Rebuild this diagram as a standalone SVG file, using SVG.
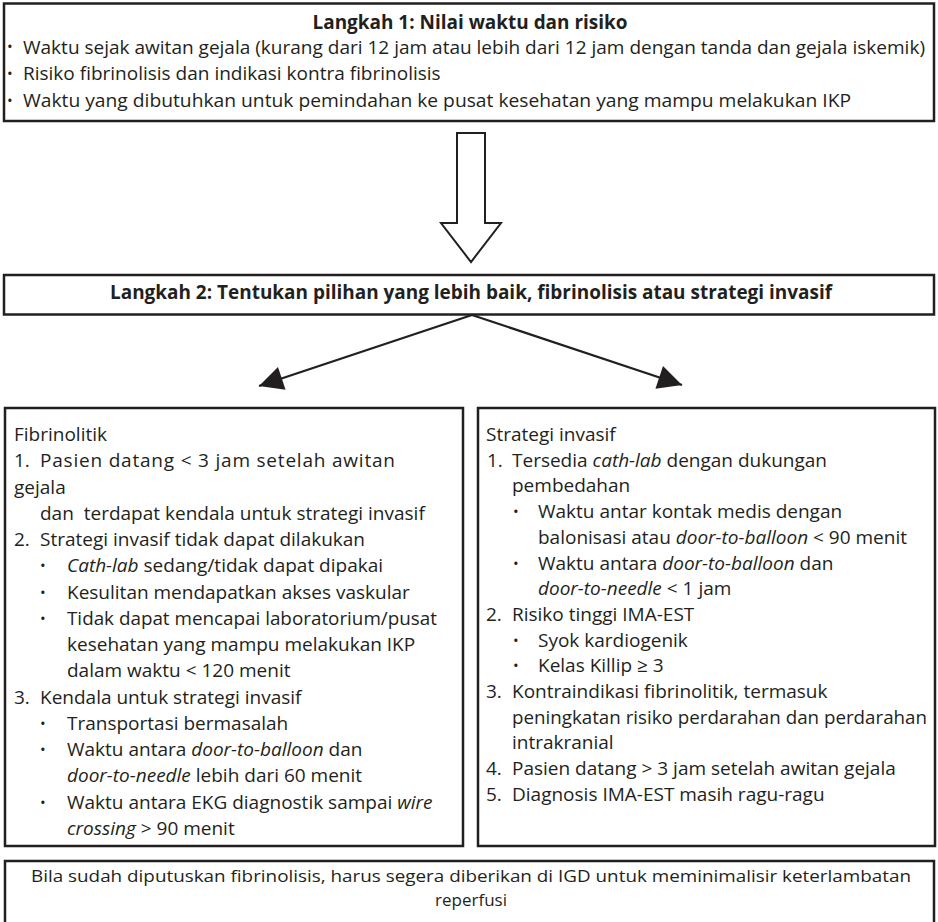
<svg xmlns="http://www.w3.org/2000/svg" width="938" height="922" viewBox="0 0 938 922">
<defs>
<style>
.box{fill:#fff;stroke:#231f20;stroke-width:2.5}
.t{font-family:"Open Sans","Noto Sans","Liberation Sans",sans-serif;font-size:19px;fill:#231f20}
.b{font-family:"Open Sans","Noto Sans","Liberation Sans",sans-serif;font-size:20px;font-weight:bold;fill:#231f20}
.s{font-size:17px}
.i{font-style:italic}
.bul{font-size:15px}
.con{stroke:#231f20;stroke-width:2.2;fill:none}
.hollow{fill:#fff;stroke:#231f20;stroke-width:2}
</style>
<marker id="ah" viewBox="0 0 10 10" refX="10" refY="5" markerUnits="userSpaceOnUse" markerWidth="27" markerHeight="24" orient="auto">
<path d="M0,0 L10,5 L0,10 z" fill="#231f20"/>
</marker>
</defs>
<rect width="938" height="922" fill="#fff"/>

<g id="step1">
<rect class="box" x="4" y="3.5" width="930" height="117.5"/>
<text class="b" x="470" y="28.5" text-anchor="middle" textLength="315" lengthAdjust="spacingAndGlyphs">Langkah 1: Nilai waktu dan risiko</text>
<text class="t bul" x="7" y="52">•</text>
<text class="t" x="23" y="53.5" textLength="902" lengthAdjust="spacingAndGlyphs">Waktu sejak awitan gejala (kurang dari 12 jam atau lebih dari 12 jam dengan tanda dan gejala iskemik)</text>
<text class="t bul" x="7" y="79">•</text>
<text class="t" x="23" y="80">Risiko fibrinolisis dan indikasi kontra fibrinolisis</text>
<text class="t bul" x="7" y="106">•</text>
<text class="t" x="23" y="107" textLength="828" lengthAdjust="spacingAndGlyphs">Waktu yang dibutuhkan untuk pemindahan ke pusat kesehatan yang mampu melakukan IKP</text>
</g>

<g id="down-arrow">
<polygon class="hollow" points="457,133 485,133 485,223 501,223 471,262 441,223 457,223"/>
</g>

<g id="step2">
<rect class="box" x="4" y="275" width="930" height="39.5"/>
<text class="b" x="471" y="299" text-anchor="middle" textLength="722" lengthAdjust="spacingAndGlyphs">Langkah 2: Tentukan pilihan yang lebih baik, fibrinolisis atau strategi invasif</text>
</g>

<g id="connectors">
<line class="con" x1="472" y1="315" x2="259" y2="386" marker-end="url(#ah)"/>
<line class="con" x1="472" y1="315" x2="682" y2="385" marker-end="url(#ah)"/>
</g>

<g id="fibrinolitik">
<rect class="box" x="5" y="408" width="458" height="438"/>
<text class="t" x="14" y="441">Fibrinolitik</text>
<text class="t" x="14" y="467.25">1.</text>
<text class="t" x="40" y="467.25" textLength="355" lengthAdjust="spacing">Pasien datang &lt; 3 jam setelah awitan</text>
<text class="t" x="14" y="493.5">gejala</text>
<text class="t" x="40" y="519.75" xml:space="preserve">dan  terdapat kendala untuk strategi invasif</text>
<text class="t" x="14" y="546">2.</text>
<text class="t" x="40" y="546">Strategi invasif tidak dapat dilakukan</text>
<text class="t bul" x="40" y="571.25">•</text>
<text class="t" x="67" y="572.25"><tspan class="i">Cath-lab</tspan> sedang/tidak dapat dipakai</text>
<text class="t bul" x="40" y="597.5">•</text>
<text class="t" x="67" y="598.5">Kesulitan mendapatkan akses vaskular</text>
<text class="t bul" x="40" y="623.75">•</text>
<text class="t" x="67" y="624.75" textLength="370" lengthAdjust="spacingAndGlyphs">Tidak dapat mencapai laboratorium/pusat</text>
<text class="t" x="67" y="651">kesehatan yang mampu melakukan IKP</text>
<text class="t" x="67" y="677.25">dalam waktu &lt; 120 menit</text>
<text class="t" x="14" y="703.5">3.</text>
<text class="t" x="40" y="703.5">Kendala untuk strategi invasif</text>
<text class="t bul" x="40" y="728.75">•</text>
<text class="t" x="67" y="729.75">Transportasi bermasalah</text>
<text class="t bul" x="40" y="755">•</text>
<text class="t" x="67" y="756">Waktu antara <tspan class="i">door-to-balloon</tspan> dan</text>
<text class="t" x="67" y="782.25"><tspan class="i">door-to-needle</tspan> lebih dari 60 menit</text>
<text class="t bul" x="40" y="807.5">•</text>
<text class="t" x="67" y="808.5">Waktu antara EKG diagnostik sampai <tspan class="i">wire</tspan></text>
<text class="t" x="67" y="834.75"><tspan class="i">crossing</tspan> &gt; 90 menit</text>
</g>

<g id="strategi-invasif">
<rect class="box" x="478" y="408" width="457" height="438"/>
<text class="t" x="486" y="441">Strategi invasif</text>
<text class="t" x="487" y="466.7">1.</text>
<text class="t" x="512" y="466.7">Tersedia <tspan class="i">cath-lab</tspan> dengan dukungan</text>
<text class="t" x="512" y="492.4">pembedahan</text>
<text class="t bul" x="513" y="517.1">•</text>
<text class="t" x="538" y="518.1">Waktu antar kontak medis dengan</text>
<text class="t" x="538" y="543.8">balonisasi atau <tspan class="i">door-to-balloon</tspan> &lt; 90 menit</text>
<text class="t bul" x="513" y="568.5">•</text>
<text class="t" x="538" y="569.5">Waktu antara <tspan class="i">door-to-balloon</tspan> dan</text>
<text class="t" x="538" y="595.2"><tspan class="i">door-to-needle</tspan> &lt; 1 jam</text>
<text class="t" x="486" y="620.9">2.</text>
<text class="t" x="512" y="620.9">Risiko tinggi IMA-EST</text>
<text class="t bul" x="513" y="645.6">•</text>
<text class="t" x="538" y="646.6">Syok kardiogenik</text>
<text class="t bul" x="513" y="671.3">•</text>
<text class="t" x="538" y="672.3">Kelas Killip ≥ 3</text>
<text class="t" x="486" y="698">3.</text>
<text class="t" x="512" y="698">Kontraindikasi fibrinolitik, termasuk</text>
<text class="t" x="512" y="723.7" textLength="415" lengthAdjust="spacingAndGlyphs">peningkatan risiko perdarahan dan perdarahan</text>
<text class="t" x="512" y="749.4">intrakranial</text>
<text class="t" x="486" y="775.1">4.</text>
<text class="t" x="512" y="775.1">Pasien datang &gt; 3 jam setelah awitan gejala</text>
<text class="t" x="486" y="800.8">5.</text>
<text class="t" x="512" y="800.8">Diagnosis IMA-EST masih ragu-ragu</text>
</g>

<g id="catatan">
<rect class="box" x="5" y="861" width="929" height="70"/>
<text class="t s" x="471" y="882" text-anchor="middle" textLength="880" lengthAdjust="spacingAndGlyphs">Bila sudah diputuskan fibrinolisis, harus segera diberikan di IGD untuk meminimalisir keterlambatan</text>
<text class="t s" x="471" y="905.5" text-anchor="middle">reperfusi</text>
</g>
</svg>
